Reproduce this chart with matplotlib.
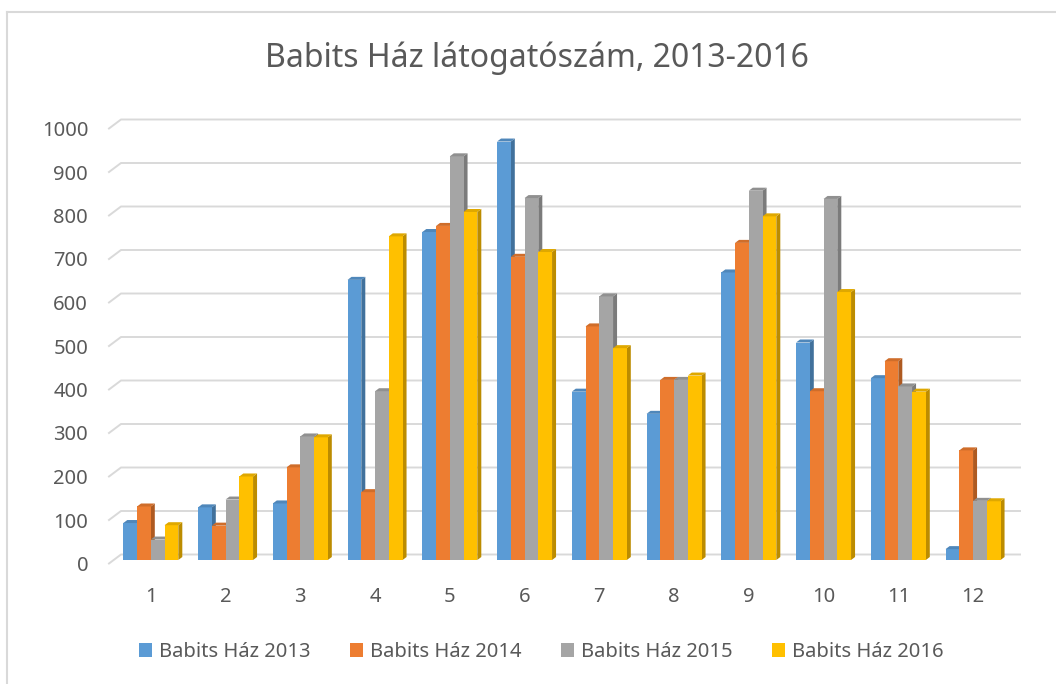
import matplotlib
matplotlib.use("Agg")
import matplotlib.pyplot as plt
from matplotlib.patches import Polygon
from matplotlib.transforms import ScaledTranslation
from matplotlib.lines import Line2D

plt.rcParams['font.family'] = ['Noto Sans', 'DejaVu Sans']

# adatok
honapok = [1, 2, 3, 4, 5, 6, 7, 8, 9, 10, 11, 12]
ev_2013 = [85, 121, 130, 644, 754, 962, 387, 336, 661, 500, 418, 25]
ev_2014 = [123, 79, 213, 156, 768, 697, 537, 414, 729, 388, 457, 252]
ev_2015 = [47, 139, 284, 388, 928, 832, 606, 414, 849, 830, 399, 136]
ev_2016 = [80, 192, 282, 744, 800, 708, 487, 424, 790, 616, 387, 135]
sorozat_nevek = ["Babits Ház 2013", "Babits Ház 2014", "Babits Ház 2015", "Babits Ház 2016"]
y_ticks = [0, 100, 200, 300, 400, 500, 600, 700, 800, 900, 1000]

szinek = ["#5B9BD5", "#ED7D31", "#A5A5A5", "#FFC000"]
oldal = ["#41719C", "#AE5A21", "#7B7B7B", "#BC8C00"]
teteje = ["#4F87BA", "#CF6D2A", "#909090", "#DFA800"]
szoveg = "#595959"
racs = "#D9D9D9"

W, H = 1056, 684
fig = plt.figure(figsize=(W / 100, H / 100), dpi=100)

# tengely pixelben
ax_l, ax_r, ax_b, ax_t = 109, 1008, 563.5, 128.5
ax = fig.add_axes([ax_l / W, 1 - ax_b / H, (ax_r - ax_l) / W, (ax_b - ax_t) / H])
c1, lepes = 150.8, 74.75
xmin = 1 - (c1 - ax_l) / lepes
xmax = 12 + (ax_r - (c1 + 11 * lepes)) / lepes
ax.set_xlim(xmin, xmax)
ax.set_ylim(0, 1000)
px_x = lepes                      # px / egység
px_y = (ax_b - ax_t) / 1000.0     # px / érték

for s in ax.spines.values():
    s.set_visible(False)

# hátfal rácsvonalai (3D hatás)
melyseg_x, melyseg_y = 12, 9
for v in y_ticks:
    ax.add_line(Line2D([xmin, xmin + melyseg_x / px_x, xmax + melyseg_x / px_x],
                       [v, v + melyseg_y / px_y, v + melyseg_y / px_y],
                       color=racs, lw=1.4, clip_on=False, zorder=0))

# oszlopok
bw = 13.75 / lepes
adatok = [ev_2013, ev_2014, ev_2015, ev_2016]
eltolas = ScaledTranslation(0, 3.5 / 100, fig.dpi_scale_trans)
dx, dy = 4 / px_x, 3 / px_y
z = 2
for m_i, m in enumerate(honapok):
    for k, sor in enumerate(adatok):
        x0 = m + (k - 2) * bw
        v = sor[m_i]
        b = ax.bar(x0, v, width=bw, align='edge', color=szinek[k],
                   label=sorozat_nevek[k] if m_i == 0 else None, zorder=z + 0.5)
        b[0].set_transform(ax.transData + eltolas)
        b[0].set_clip_on(False)
        side = Polygon([(x0 + bw, 0), (x0 + bw, v), (x0 + bw + dx, v + dy), (x0 + bw + dx, dy)],
                       closed=True, facecolor=oldal[k], edgecolor='none',
                       transform=ax.transData + eltolas, zorder=z, clip_on=False)
        top = Polygon([(x0, v), (x0 + bw, v), (x0 + bw + dx, v + dy), (x0 + dx, v + dy)],
                      closed=True, facecolor=teteje[k], edgecolor='none',
                      transform=ax.transData + eltolas, zorder=z + 0.5, clip_on=False)
        ax.add_patch(side)
        ax.add_patch(top)
        z += 1

ax.set_xticks(honapok)
ax.set_xticklabels([str(m) for m in honapok])
ax.set_yticks(y_ticks)
ax.tick_params(axis='both', length=0, labelsize=14.5, labelcolor=szoveg)
ax.tick_params(axis='y', pad=15)
ax.tick_params(axis='x', pad=17)

fig.text(536.5 / W, 1 - 58 / H, "Babits Ház látogatószám, 2013-2016",
         ha='center', va='center', fontsize=23, color=szoveg)

leg = fig.legend(loc='center', bbox_to_anchor=(541.5 / W, 1 - 652 / H), ncol=4,
                 frameon=False, fontsize=14.5, handlelength=0.65, handleheight=0.65,
                 handletextpad=0.35, columnspacing=1.95, labelcolor=szoveg)

# keret
fig.add_artist(Line2D([7 / W, 7 / W], [0, 1 - 12 / H], color=racs, lw=1.5))
fig.add_artist(Line2D([7 / W, 1], [1 - 12 / H, 1 - 12 / H], color=racs, lw=1.5))

fig.savefig("out.png", dpi=100)
